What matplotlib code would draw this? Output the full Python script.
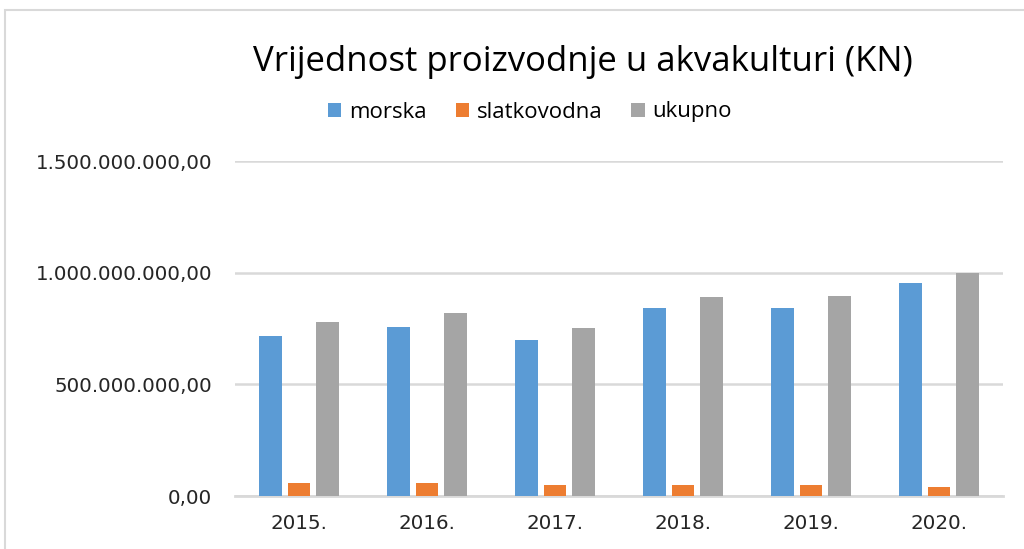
import matplotlib.pyplot as plt
import matplotlib.patches as patches
from matplotlib.ticker import FuncFormatter
import numpy as np

godine = ['2015.', '2016.', '2017.', '2018.', '2019.', '2020.']
morska = [715e6, 758e6, 700e6, 840e6, 840e6, 955e6]
slatkovodna = [58e6, 58e6, 49e6, 49e6, 49e6, 40e6]
ukupno = [780e6, 820e6, 753e6, 892e6, 897e6, 1000e6]
serije = ['morska', 'slatkovodna', 'ukupno']
boje = ['#5B9BD5', '#ED7D31', '#A5A5A5']

fig = plt.figure(figsize=(10.24, 5.49), dpi=100)
plt.rcParams['font.family'] = ['Open Sans', 'DejaVu Sans']

# okvir grafikona (odrezan desno i dolje)
fig.patches.append(patches.Rectangle((5/1024, -0.1), 1.2, 1-10/549+0.1, transform=fig.transFigure,
                                     fill=False, edgecolor='#d9d9d9', linewidth=1.5))

ax = fig.add_axes([235/1024, 1-496/549, 768/1024, (496-161)/549])
x = np.arange(len(godine))
w = 0.176
pomak = 0.223
for i, (vals, ime, c) in enumerate(zip([morska, slatkovodna, ukupno], serije, boje)):
    ax.bar(x + (i-1)*pomak, vals, w, color=c, label=ime, zorder=3)

ax.set_xlim(-0.5, 5.5)
ax.set_ylim(0, 1.5e9)
ax.set_yticks([0, 5e8, 1e9, 1.5e9])
fmt = lambda v, p: '{:,.2f}'.format(v).replace(',', 'X').replace('.', ',').replace('X', '.')
ax.yaxis.set_major_formatter(FuncFormatter(fmt))
ax.set_xticks(x)
ax.set_xticklabels(godine)
ax.grid(axis='y', color='#d9d9d9', linewidth=1.8, zorder=0)
for s in ['top', 'right', 'left']:
    ax.spines[s].set_visible(False)
ax.spines['bottom'].set_color('#d9d9d9')
ax.spines['bottom'].set_linewidth(2)
ax.tick_params(axis='both', length=0, colors='#262626')
for t in ax.get_yticklabels() + ax.get_xticklabels():
    t.set_family('DejaVu Sans')
    t.set_fontsize(14.3)
ax.tick_params(axis='y', pad=16.5)
ax.tick_params(axis='x', pad=13)

fig.text(583/1024, 1-62/549, 'Vrijednost proizvodnje u akvakulturi (KN)', ha='center', va='center',
         fontsize=25, color='#000000')
fig.legend(loc='center', bbox_to_anchor=(530/1024, 1-112/549), ncol=3, frameon=False,
           fontsize=16, handlelength=0.6, handleheight=0.6, handletextpad=0.35, columnspacing=1.3)

plt.savefig('out.png', dpi=100)
